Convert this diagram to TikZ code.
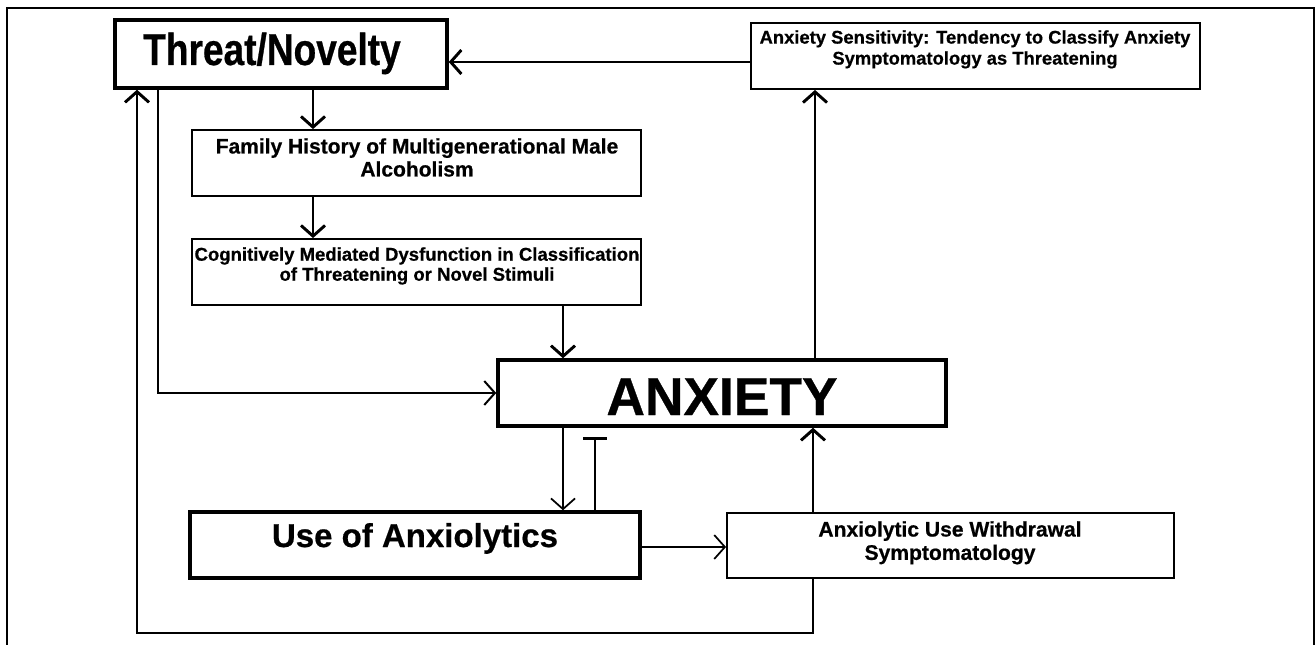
\documentclass[tikz,border=0pt]{standalone}
\usepackage{fontspec}
\setmainfont{Liberation Sans}[BoldFeatures={FakeBold=0.6}]
\newfontfamily\tallsans{Liberation Sans}[FakeStretch=0.83, BoldFeatures={FakeBold=0.6}]
\usetikzlibrary{arrows.meta,fit}
\begin{document}
\begin{tikzpicture}[x=0.75pt,y=-0.75pt,
  thickbox/.style={draw, line width=2.6pt, inner sep=0pt},
  thinbox/.style={draw, line width=1.4pt, inner sep=0pt},
  lbl/.style={inner sep=0pt, align=center},
  barb/.tip={Straight Barb[length=8pt,width=18pt]},
  thickarrow/.style={line width=2.2pt, -barb},
  midarrow/.style={line width=1.5pt, -barb},
  thinarrow/.style={line width=1.3pt, -barb},
  frameline/.style={line width=1.1pt}
]
\useasboundingbox (0,0) rectangle (1316,645);
% outer frame
\draw[frameline] (7,645) -- (7,8) -- (1314,8) -- (1314,645);

% boxes
\node[thickbox, fit={(115,20) (447,88)}] (threat) {};
\node[thinbox, fit={(751,23) (1200,89)}] (anxsens) {};
\node[thinbox, fit={(192,130) (641,196)}] (fam) {};
\node[thinbox, fit={(192,239) (641,305)}] (cog) {};
\node[thickbox, fit={(498,360) (946,426)}] (anx) {};
\node[thickbox, fit={(190,512) (640,578)}] (use) {};
\node[thinbox, fit={(727,513) (1174,578)}] (wd) {};

% texts
\node[lbl, anchor=base, font=\tallsans\bfseries\fontsize{33.5}{36}\selectfont] (threattxt) at (272,65) {Threat/Novelty};
\node[lbl, anchor=base, font=\bfseries\fontsize{40}{44}\selectfont] (anxtxt) at (722,415) {ANXIETY};
\node[lbl, anchor=base, font=\bfseries\fontsize{24.75}{27}\selectfont] (usetxt) at (415,547) {Use of Anxiolytics};
\node[lbl, anchor=north, font=\bfseries\fontsize{15.75}{17.25}\selectfont] (famtxt) at (417,138) {Family History of Multigenerational Male\\Alcoholism};
\node[lbl, anchor=north, font=\bfseries\fontsize{13.9}{15}\selectfont] (cogtxt) at (417,247) {Cognitively Mediated Dysfunction in Classification\\of Threatening or Novel Stimuli};
\node[lbl, anchor=north, font=\bfseries\fontsize{13.8}{15.75}\selectfont] (anxsenstxt) at (975,30) {Anxiety Sensitivity: Tendency to Classify Anxiety\\Symptomatology as Threatening};
\node[lbl, anchor=north, font=\bfseries\fontsize{15.8}{17.5}\selectfont] (wdtxt) at (950,521) {Anxiolytic Use Withdrawal\\Symptomatology};

% connectors
\draw[thickarrow] (anxsens.west |- 0,62) -- (threat.east |- 0,62);
\draw[thickarrow] (threat.south -| 313,0) -- (fam.north -| 313,0);
\draw[thickarrow] (fam.south -| 313,0) -- (cog.north -| 313,0);
\draw[thickarrow] (cog.south -| 563,0) -- (anx.north -| 563,0);
\draw[thickarrow] (anx.north -| 815,0) -- (anxsens.south -| 815,0);
\draw[midarrow] (threat.south -| 158,0) |- (anx.west);
\draw[thinarrow] (anx.south -| 563,0) -- (use.north -| 563,0);
\coordinate (barend) at (595,437);
\draw[line width=2.2pt, -{Bar[width=18pt]}] (use.north -| barend) -- (barend);
\draw[thinarrow] (use.east |- 0,547) -- (wd.west |- 0,547);
\draw[thickarrow] (wd.north -| 813,0) -- (anx.south -| 813,0);
\coordinate (loopR) at (813,633);
\coordinate (loopL) at (137,633);
\draw[thickarrow] (wd.south -| loopR) -- (loopR) -- (loopL) -- (threat.south -| loopL);
\end{tikzpicture}
\end{document}
